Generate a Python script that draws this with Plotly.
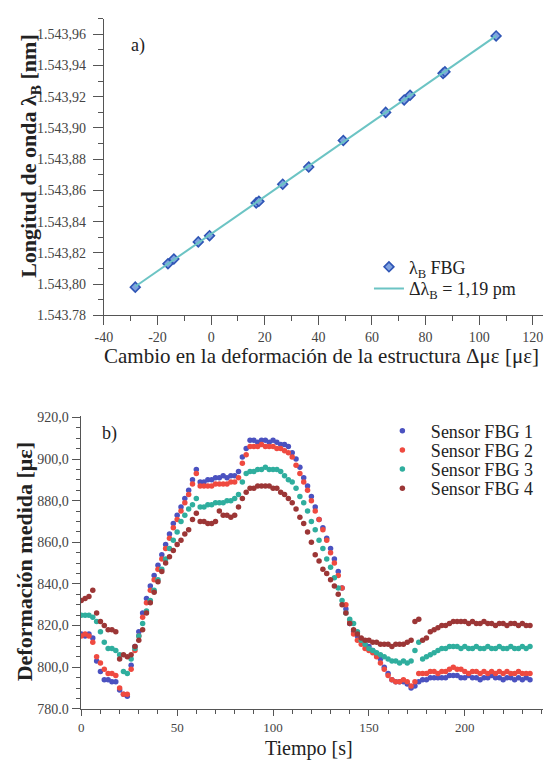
import numpy as np
import plotly.graph_objects as go

# ---------------- panel a) data ----------------
strain_a = [-28.3, -16.1, -13.9, -4.8, -0.6, 16.8, 17.8, 26.7, 36.4, 49.3,
            65.1, 72.0, 74.2, 86.5, 87.2, 106.3]
wavelength_a = [1543.798, 1543.813, 1543.816, 1543.827, 1543.831, 1543.852,
                1543.853, 1543.864, 1543.875, 1543.892, 1543.910, 1543.918,
                1543.921, 1543.935, 1543.936, 1543.959]
ytick_vals_a = [1543.78, 1543.80, 1543.82, 1543.84, 1543.86, 1543.88,
                1543.90, 1543.92, 1543.94, 1543.96]
ytick_text_a = ["1.543.78", "1.543,80", "1.543,82", "1.543,84", "1.543,86",
                "1.543,88", "1.543,90", "1.543,92", "1.543,94", "1.543,96"]
xtick_vals_a = [-40, -20, 0, 20, 40, 60, 80, 100, 120]
xtick_text_a = ["-40", "-20", "0", "20", "40", "60", "80", "100", "120"]

# ---------------- panel b) data ----------------
time_b = list(range(0, 236, 2))
sensor1 = [816, 815, 816, 814, 803, 798, 794, 794, 793, 793,
           789, 787, 786, 801, 810, 817, 826, 833, 839, 844,
           849, 854, 859, 864, 869, 873, 877, 881, 885, 890,
           895, 889, 889, 890, 890, 891, 891, 892, 891, 892,
           892, 894, 901, 905, 909, 909, 908, 909, 909, 908,
           909, 908, 907, 907, 906, 903, 900, 896, 891, 887,
           882, 877, 871, 867, 862, 857, 852, 846, 838, 828,
           821, 817, 815, 813, 811, 810, 808, 806, 804, 800,
           797, 794, 793, 793, 793, 792, 790, 791, 793, 794,
           794, 795, 795, 795, 795, 795, 796, 796, 796, 795,
           795, 796, 795, 795, 794, 795, 795, 796, 795, 795,
           794, 795, 795, 794, 795, 794, 795, 794]
sensor2 = [815, 816, 815, 812, 805, 802, 799, 797, 797, 796,
           790, 787, 787, 799, 808, 815, 824, 831, 837, 842,
           847, 852, 857, 862, 867, 871, 875, 879, 883, 888,
           893, 887, 887, 887, 887, 888, 888, 888, 888, 889,
           889, 891, 898, 902, 906, 906, 906, 907, 906, 906,
           906, 905, 905, 904, 903, 901, 897, 893, 889, 885,
           880, 875, 871, 866, 861, 855, 850, 844, 838, 830,
           822, 816, 813, 811, 809, 808, 807, 805, 802, 799,
           796, 794, 793, 793, 794, 793, 791, 793, 797, 797,
           797, 798, 798, 797, 798, 798, 799, 800, 799, 799,
           798, 797, 798, 798, 797, 798, 797, 798, 797, 798,
           797, 798, 797, 797, 798, 797, 797, 797]
sensor3 = [825, 825, 825, 824, 822, 817, 812, 809, 809, 808,
           806, 798, 797, 804, 809, 815, 821, 827, 832, 837,
           842, 847, 852, 857, 861, 865, 870, 873, 876, 878,
           881, 877, 877, 878, 878, 879, 879, 879, 880, 880,
           881, 883, 889, 893, 894, 894, 895, 895, 896, 895,
           895, 895, 894, 892, 890, 889, 886, 882, 879, 875,
           870, 866, 861, 857, 852, 848, 843, 838, 832, 826,
           823, 821, 817, 813, 811, 809, 808, 807, 806, 805,
           804, 803, 803, 802, 803, 802, 803, 808, 812, 804,
           805, 806, 807, 808, 809, 809, 810, 810, 810, 809,
           810, 809, 809, 810, 809, 809, 810, 809, 809, 810,
           809, 809, 810, 809, 809, 810, 809, 810]
sensor4 = [832, 833, 834, 837, 826, 822, 820, 818, 818, 817,
           804, 806, 805, 806, 810, 813, 818, 826, 831, 836,
           841, 846, 850, 853, 856, 859, 861, 864, 866, 871,
           874, 870, 870, 869, 869, 870, 875, 873, 873, 872,
           873, 877, 881, 884, 886, 886, 887, 887, 887, 887,
           886, 886, 884, 883, 881, 879, 876, 872, 869, 865,
           860, 854, 851, 847, 845, 842, 839, 835, 830, 826,
           821, 818, 816, 814, 813, 813, 812, 812, 811, 811,
           811, 810, 811, 811, 811, 812, 813, 822, 823, 813,
           814, 817, 818, 819, 820, 820, 821, 822, 822, 822,
           822, 821, 822, 821, 821, 822, 821, 821, 820, 821,
           821, 820, 821, 821, 820, 821, 820, 820]
sensor_names = ["Sensor FBG 1", "Sensor FBG 2", "Sensor FBG 3", "Sensor FBG 4"]
ytick_vals_b = [780, 800, 820, 840, 860, 880, 900, 920]
ytick_text_b = ["780.0", "800,0", "820,0", "840,0", "860,0", "880,0", "900,0", "920,0"]
xtick_vals_b = [0, 50, 100, 150, 200]

# ---------------- styling ----------------
W, H = 545, 763
SERIF = "Liberation Serif, Times New Roman, Times, serif"
sensor_colors = ["#4b52c0", "#ef4a40", "#2fae9e", "#9c3636"]
legend_rows_b = [433, 452.5, 472, 491.5]


def px_x(p):
    return p / W


def px_y(p):
    return 1 - p / H


fig = go.Figure()

# panel a) fit line
coef = np.polyfit(strain_a, wavelength_a, 1)
fit_x = [min(strain_a), max(strain_a)]
fit_y = list(np.polyval(coef, fit_x))

fig.add_trace(go.Scatter(
    x=strain_a, y=wavelength_a, mode="markers", name="λ<sub>B</sub> FBG",
    marker=dict(symbol="diamond", size=7.5, color="#7fa2e0",
                line=dict(color="#2f55b5", width=1.6)),
    xaxis="x", yaxis="y", legend="legend", showlegend=True))
fig.add_trace(go.Scatter(
    x=fit_x, y=fit_y, mode="lines", name="Δλ<sub>B</sub> = 1,19 pm",
    line=dict(color="#6cc4c4", width=2),
    xaxis="x", yaxis="y", legend="legend2", showlegend=True))

for i, (vals, name, col) in enumerate(zip([sensor1, sensor2, sensor3, sensor4],
                                          sensor_names, sensor_colors)):
    fig.add_trace(go.Scatter(
        x=time_b, y=vals, mode="markers", name=name,
        marker=dict(size=5.5, color=col),
        xaxis="x2", yaxis="y2", legend="legend%d" % (i + 3), showlegend=True))

axis_common = dict(showline=True, linecolor="#555", linewidth=1.4,
                   showgrid=False, zeroline=False, ticks="outside",
                   tickcolor="#555", tickwidth=1.3)
tick_font = dict(family=SERIF, size=14, color="#444")

layout = dict(
    width=W, height=H, margin=dict(l=0, r=0, t=0, b=0),
    paper_bgcolor="white", plot_bgcolor="white",
    font=dict(family=SERIF, color="#222"),
    showlegend=True,
    xaxis=dict(domain=[px_x(96.5), px_x(543)], range=[-40, 123.8], anchor="y",
               tickmode="array", tickvals=xtick_vals_a, ticktext=xtick_text_a,
               ticklen=9, tickfont=tick_font,
               minor=dict(tickmode="linear", tick0=-40, dtick=10, ticklen=5,
                          ticks="outside", tickcolor="#555"),
               **axis_common),
    yaxis=dict(domain=[px_y(315), px_y(13)], range=[1543.78, 1543.97], anchor="x",
               tickmode="array", tickvals=ytick_vals_a, ticktext=ytick_text_a,
               ticklen=10, ticklabelstandoff=4, tickfont=tick_font,
               minor=dict(tickmode="linear", tick0=1543.78, dtick=0.01, ticklen=5,
                          ticks="outside", tickcolor="#555"),
               **axis_common),
    xaxis2=dict(domain=[px_x(73), px_x(543)], range=[-0.25, 240.8], anchor="y2",
                tickmode="array", tickvals=xtick_vals_b,
                ticktext=[str(v) for v in xtick_vals_b],
                ticklen=6, tickfont=dict(family=SERIF, size=13, color="#444"),
                minor=dict(tickmode="linear", tick0=0, dtick=10, ticklen=4,
                           ticks="outside", tickcolor="#555"),
                **axis_common),
    yaxis2=dict(domain=[px_y(716), px_y(418)], range=[780, 920.5], anchor="x2",
                tickmode="array", tickvals=ytick_vals_b, ticktext=ytick_text_b,
                ticklen=8, tickfont=tick_font,
                minor=dict(tickmode="linear", tick0=780, dtick=5, ticklen=4,
                           ticks="outside", tickcolor="#555"),
                **axis_common),
    legend=dict(x=px_x(366), y=px_y(266), xanchor="left", yanchor="middle",
                bgcolor="rgba(0,0,0,0)", itemwidth=30, visible=True,
                font=dict(family=SERIF, size=18, color="#222")),
    legend2=dict(x=px_x(366), y=px_y(288), xanchor="left", yanchor="middle",
                 bgcolor="rgba(0,0,0,0)", itemwidth=30, visible=True,
                 font=dict(family=SERIF, size=18, color="#222")),
)
for i, yrow in enumerate(legend_rows_b):
    layout["legend%d" % (i + 3)] = dict(
        x=px_x(371), y=px_y(yrow), xanchor="left", yanchor="middle",
        bgcolor="rgba(0,0,0,0)", itemwidth=47, visible=True,
        font=dict(family=SERIF, size=18, color="#222"))

fig.update_layout(**layout)

annots = [
    dict(text="a)", x=px_x(131), y=px_y(40), size=18, angle=0),
    dict(text="b)", x=px_x(102), y=px_y(435), size=18, angle=0),
    dict(text="<b>Longitud de onda λ<sub>B</sub> [nm]</b>", x=px_x(22), y=px_y(153),
         size=22, angle=-90),
    dict(text="Cambio en la deformación de la estructura Δμε [με]", x=px_x(318),
         y=px_y(357), size=21, angle=0),
    dict(text="<b>Deformación medida [με]</b>", x=px_x(16), y=px_y(566),
         size=22, angle=-90),
    dict(text="Tiempo [s]", x=px_x(305), y=px_y(756), size=20, angle=0),
]
for a in annots:
    fig.add_annotation(text=a["text"], x=a["x"], y=a["y"], xref="paper", yref="paper",
                       xanchor="center", yanchor="middle", showarrow=False,
                       textangle=a["angle"],
                       font=dict(family=SERIF, size=a["size"], color="#222"))

fig.write_html("out.html")
